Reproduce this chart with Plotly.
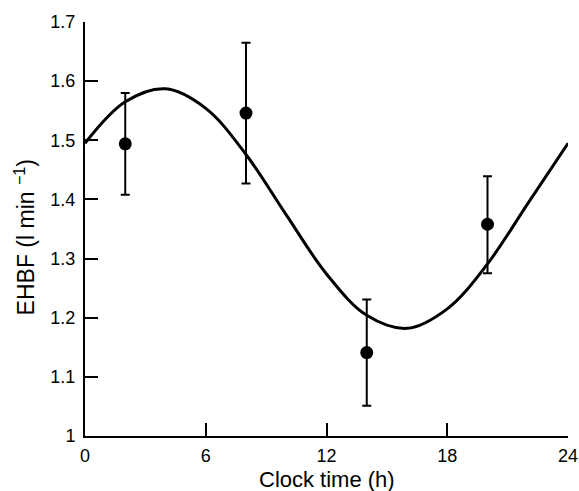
import plotly.graph_objects as go

# Observed data (mean ± error)
obs_time = [2, 8, 14, 20]
obs_ehbf = [1.494, 1.546, 1.141, 1.358]
obs_upper = [1.580, 1.665, 1.231, 1.439]
obs_lower = [1.408, 1.427, 1.051, 1.275]

# Fitted curve
curve_time = [0, 2, 4, 6, 8, 10, 12, 14, 16, 18, 20, 22, 24]
curve_ehbf = [1.495, 1.565, 1.587, 1.554, 1.476, 1.374, 1.274, 1.204, 1.182, 1.215, 1.291, 1.393, 1.495]

x_ticks = [0, 6, 12, 18, 24]
y_ticks = [1.0, 1.1, 1.2, 1.3, 1.4, 1.5, 1.6, 1.7]
y_ticklabels = ["1", "1.1", "1.2", "1.3", "1.4", "1.5", "1.6", "1.7"]

x_title = "Clock time (h)"
y_title = "EHBF (l min <sup>\u22121</sup>)"

err_plus = [u - m for u, m in zip(obs_upper, obs_ehbf)]
err_minus = [m - l for m, l in zip(obs_ehbf, obs_lower)]

fig = go.Figure()
fig.add_trace(go.Scatter(
    x=curve_time, y=curve_ehbf, mode="lines",
    line=dict(color="black", width=3, shape="spline", smoothing=1.0),
    showlegend=False, hoverinfo="skip"))
fig.add_trace(go.Scatter(
    x=obs_time, y=obs_ehbf, mode="markers",
    marker=dict(color="black", size=13),
    error_y=dict(type="data", symmetric=False, array=err_plus, arrayminus=err_minus,
                 color="black", thickness=2, width=4.5),
    showlegend=False))

font_family = "Liberation Sans, Arial, sans-serif"
fig.update_layout(
    width=579, height=491,
    margin=dict(l=85, r=11, t=22, b=55),
    paper_bgcolor="white", plot_bgcolor="white",
    font=dict(family=font_family, color="black", size=18),
    xaxis=dict(range=[0, 24], tickmode="array", tickvals=x_ticks,
               showgrid=False, zeroline=False, showline=True, linecolor="black", linewidth=2,
               ticks="inside", ticklen=13, tickwidth=2, tickcolor="black",
               tickfont=dict(size=18), ticklabelstandoff=2, automargin=False),
    yaxis=dict(range=[1.0, 1.7], tickmode="array", tickvals=y_ticks, ticktext=y_ticklabels,
               showgrid=False, zeroline=False, showline=True, linecolor="black", linewidth=2,
               ticks="inside", ticklen=13, tickwidth=2, tickcolor="black",
               tickfont=dict(size=18), ticklabelstandoff=4, automargin=False),
    annotations=[
        dict(text=x_title, xref="paper", yref="paper", x=0.501, y=-0.104,
             xanchor="center", yanchor="middle", showarrow=False, font=dict(size=22)),
        dict(text=y_title, xref="paper", yref="paper", x=-0.124, y=0.48,
             xanchor="center", yanchor="middle", showarrow=False, textangle=-90,
             font=dict(size=23)),
    ],
)

fig.write_html("out.html", config={"displayModeBar": False},
               post_script="document.body.style.margin='0';")
